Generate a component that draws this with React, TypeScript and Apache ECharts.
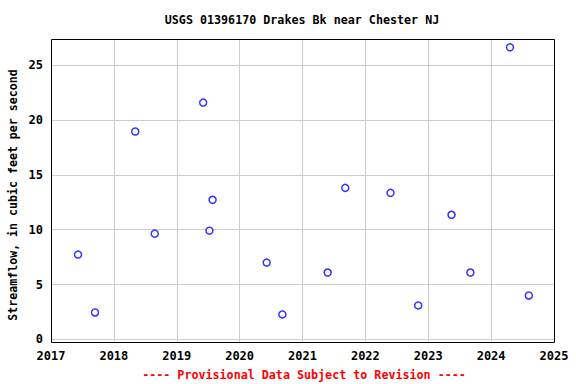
import React, { useEffect, useRef } from "react";
import * as echarts from "echarts";

const title = "USGS 01396170 Drakes Bk near Chester NJ";
const yAxisTitle = "Streamflow, in cubic feet per second";
const footnote = "---- Provisional Data Subject to Revision ----";

const xTicks = [2017, 2018, 2019, 2020, 2021, 2022, 2023, 2024, 2025];
const yTicks = [0, 5, 10, 15, 20, 25];

// decimal year of each measurement
const years = [
  2017.43, 2017.70, 2018.34, 2018.65, 2019.42, 2019.57, 2019.52, 2020.43, 2020.68,
  2021.40, 2021.68, 2022.40, 2022.84, 2023.37, 2023.67, 2024.30, 2024.60,
];
// streamflow, cfs
const flows = [
  7.73, 2.45, 18.96, 9.64, 21.6, 12.73, 9.91, 7.0, 2.27,
  6.09, 13.82, 13.36, 3.09, 11.36, 6.09, 26.64, 4.0,
];

const FONT = "'DejaVu Sans Mono', 'Liberation Mono', monospace";

export default function App() {
  const ref = useRef<HTMLDivElement>(null);
  useEffect(() => {
    document.body.style.margin = "0";
    if (!ref.current) return;
    const chart = echarts.init(ref.current, null, { renderer: "svg" });
    const L = 51, T = 39, W = 503, H = 303;
    const y0px = 339.3, y25px = 65.3;
    const pxPerUnit = (y0px - y25px) / 25;
    const yMin = -(T + H - y0px) / pxPerUnit;
    const yMax = 25 + (y25px - T) / pxPerUnit;
    chart.setOption({
      animation: false,
      grid: [
        { left: L, top: T, width: W, height: H, show: false },
        { left: L, top: y25px, width: W, height: y0px - y25px, show: false },
      ],
      xAxis: [
        {
          gridIndex: 0,
          type: "value",
          min: xTicks[0],
          max: xTicks[xTicks.length - 1],
          interval: 1,
          axisLine: { show: false },
          axisTick: { show: false },
          splitLine: { show: true, lineStyle: { color: "#cccccc", width: 1 } },
          axisLabel: {
            formatter: (v: number) => String(v),
            fontFamily: FONT,
            fontWeight: "bold",
            fontSize: 12,
            color: "#000",
            margin: 8,
          },
        },
        {
          gridIndex: 1,
          type: "value",
          min: xTicks[0],
          max: xTicks[xTicks.length - 1],
          show: false,
        },
      ],
      yAxis: [
        {
          gridIndex: 0,
          type: "value",
          min: yMin,
          max: yMax,
          axisLine: { show: false },
          axisTick: { show: false },
          splitLine: { show: false },
          axisLabel: { show: false },
        },
        {
          gridIndex: 1,
          type: "value",
          min: yTicks[0],
          max: yTicks[yTicks.length - 1],
          interval: 5,
          axisLine: { show: false },
          axisTick: { show: false },
          splitLine: { show: true, lineStyle: { color: "#cccccc", width: 1 } },
          axisLabel: {
            fontFamily: FONT,
            fontWeight: "bold",
            fontSize: 12,
            color: "#000",
            margin: 8,
          },
        },
      ],
      graphic: [
        {
          type: "rect",
          z: 100,
          shape: { x: L + 0.5, y: T + 0.5, width: W, height: H },
          style: { fill: "none", stroke: "#000", lineWidth: 1 },
          silent: true,
        },
        {
          type: "text",
          x: 302,
          y: 20,
          style: {
            text: title,
            font: `bold 11.7px ${FONT}`,
            fill: "#000",
            textAlign: "center",
            textVerticalAlign: "middle",
          },
        },
        {
          type: "text",
          x: 13,
          y: 195,
          rotation: Math.PI / 2,
          style: {
            text: yAxisTitle,
            font: `bold 11.6px ${FONT}`,
            fill: "#000",
            textAlign: "center",
            textVerticalAlign: "middle",
          },
        },
        {
          type: "text",
          x: 304,
          y: 375,
          style: {
            text: footnote,
            font: `bold 11.7px ${FONT}`,
            fill: "#ff0000",
            textAlign: "center",
            textVerticalAlign: "middle",
          },
        },
      ],
      series: [
        {
          type: "scatter",
          xAxisIndex: 0,
          yAxisIndex: 0,
          data: years.map((y, i) => [y, flows[i]]),
          symbol: "circle",
          symbolSize: 7,
          silent: true,
          z: 50,
          itemStyle: { color: "#ffffff", borderColor: "#0000ff", borderWidth: 1.5 },
        },
      ],
    });
    return () => chart.dispose();
  }, []);
  return <div ref={ref} style={{ width: 576, height: 384 }} />;
}
